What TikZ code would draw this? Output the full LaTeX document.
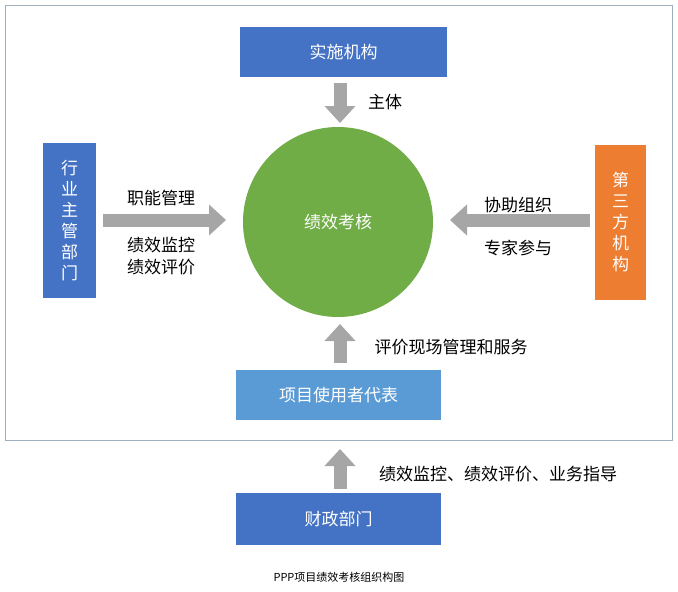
\documentclass[tikz,border=0pt]{standalone}
\usepackage{fontspec}
\setmainfont{Noto Sans CJK SC}
\usetikzlibrary{arrows.meta}
\definecolor{dblue}{HTML}{4472C4}
\definecolor{lblue}{HTML}{5B9BD5}
\definecolor{ggreen}{HTML}{70AD47}
\definecolor{oorange}{HTML}{ED7D31}
\definecolor{agray}{HTML}{A6A6A6}
\tikzset{
 box/.style={draw=none,text=white,font=\fontsize{17}{21}\selectfont,inner sep=0pt},
 lbl/.style={font=\fontsize{17}{22}\selectfont,text=black},
 barrow/.style={agray,line width=13pt,-{Triangle[width=30pt,length=17pt]}}
}
\begin{document}
\begin{tikzpicture}[x=1pt,y=-1pt]
\useasboundingbox (0,0) rectangle (678,592);
\draw[color={rgb,255:red,160;green,175;blue,190},line width=0.8pt] (5,5) rectangle (672,440);
\node[box,fill=dblue,minimum width=207pt,minimum height=50pt] (top) at (343.5,52) {实施机构};
\node[box,fill=ggreen,circle,minimum size=190pt] (c) at (338,222) {绩效考核};
\node[box,fill=dblue,minimum width=53pt,minimum height=155pt,align=center] (left) at (69.5,220.5) {行\\业\\主\\管\\部\\门};
\node[box,fill=oorange,minimum width=51pt,minimum height=155pt,align=center] (right) at (620.5,222.5) {第\\三\\方\\机\\构};
\node[box,fill=lblue,minimum width=205pt,minimum height=50pt] (usr) at (338.5,395) {项目使用者代表};
\node[box,fill=dblue,minimum width=205pt,minimum height=52pt] (fin) at (338.5,519) {财政部门};
\coordinate (t1) at (340,83); \coordinate (t2) at (340,123);
\draw[barrow] (t1) -- (t2);
\node[lbl] (ltop) at (385,102) {主体};
\coordinate (l1) at (103,220); \coordinate (l2) at (226,220);
\draw[barrow] (l1) -- (l2);
\node[lbl] (la) at (161,198) {职能管理};
\node[lbl,align=center] (lb) at (161,256) {绩效监控\\绩效评价};
\coordinate (r1) at (590,220); \coordinate (r2) at (450,220);
\draw[barrow] (r1) -- (r2);
\node[lbl] (ra) at (518,205) {协助组织};
\node[lbl] (rb) at (518,248) {专家参与};
\coordinate (b1) at (340,363); \coordinate (b2) at (340,324);
\draw[barrow] (b1) -- (b2);
\node[lbl] (bl) at (451,347) {评价现场管理和服务};
\coordinate (f1) at (340,489); \coordinate (f2) at (340,449);
\draw[barrow] (f1) -- (f2);
\node[lbl] (fl) at (498,474) {绩效监控、绩效评价、业务指导};
\node[font=\fontsize{11}{13}\selectfont] (cap) at (339,577) {PPP项目绩效考核组织构图};
\end{tikzpicture}
\end{document}
